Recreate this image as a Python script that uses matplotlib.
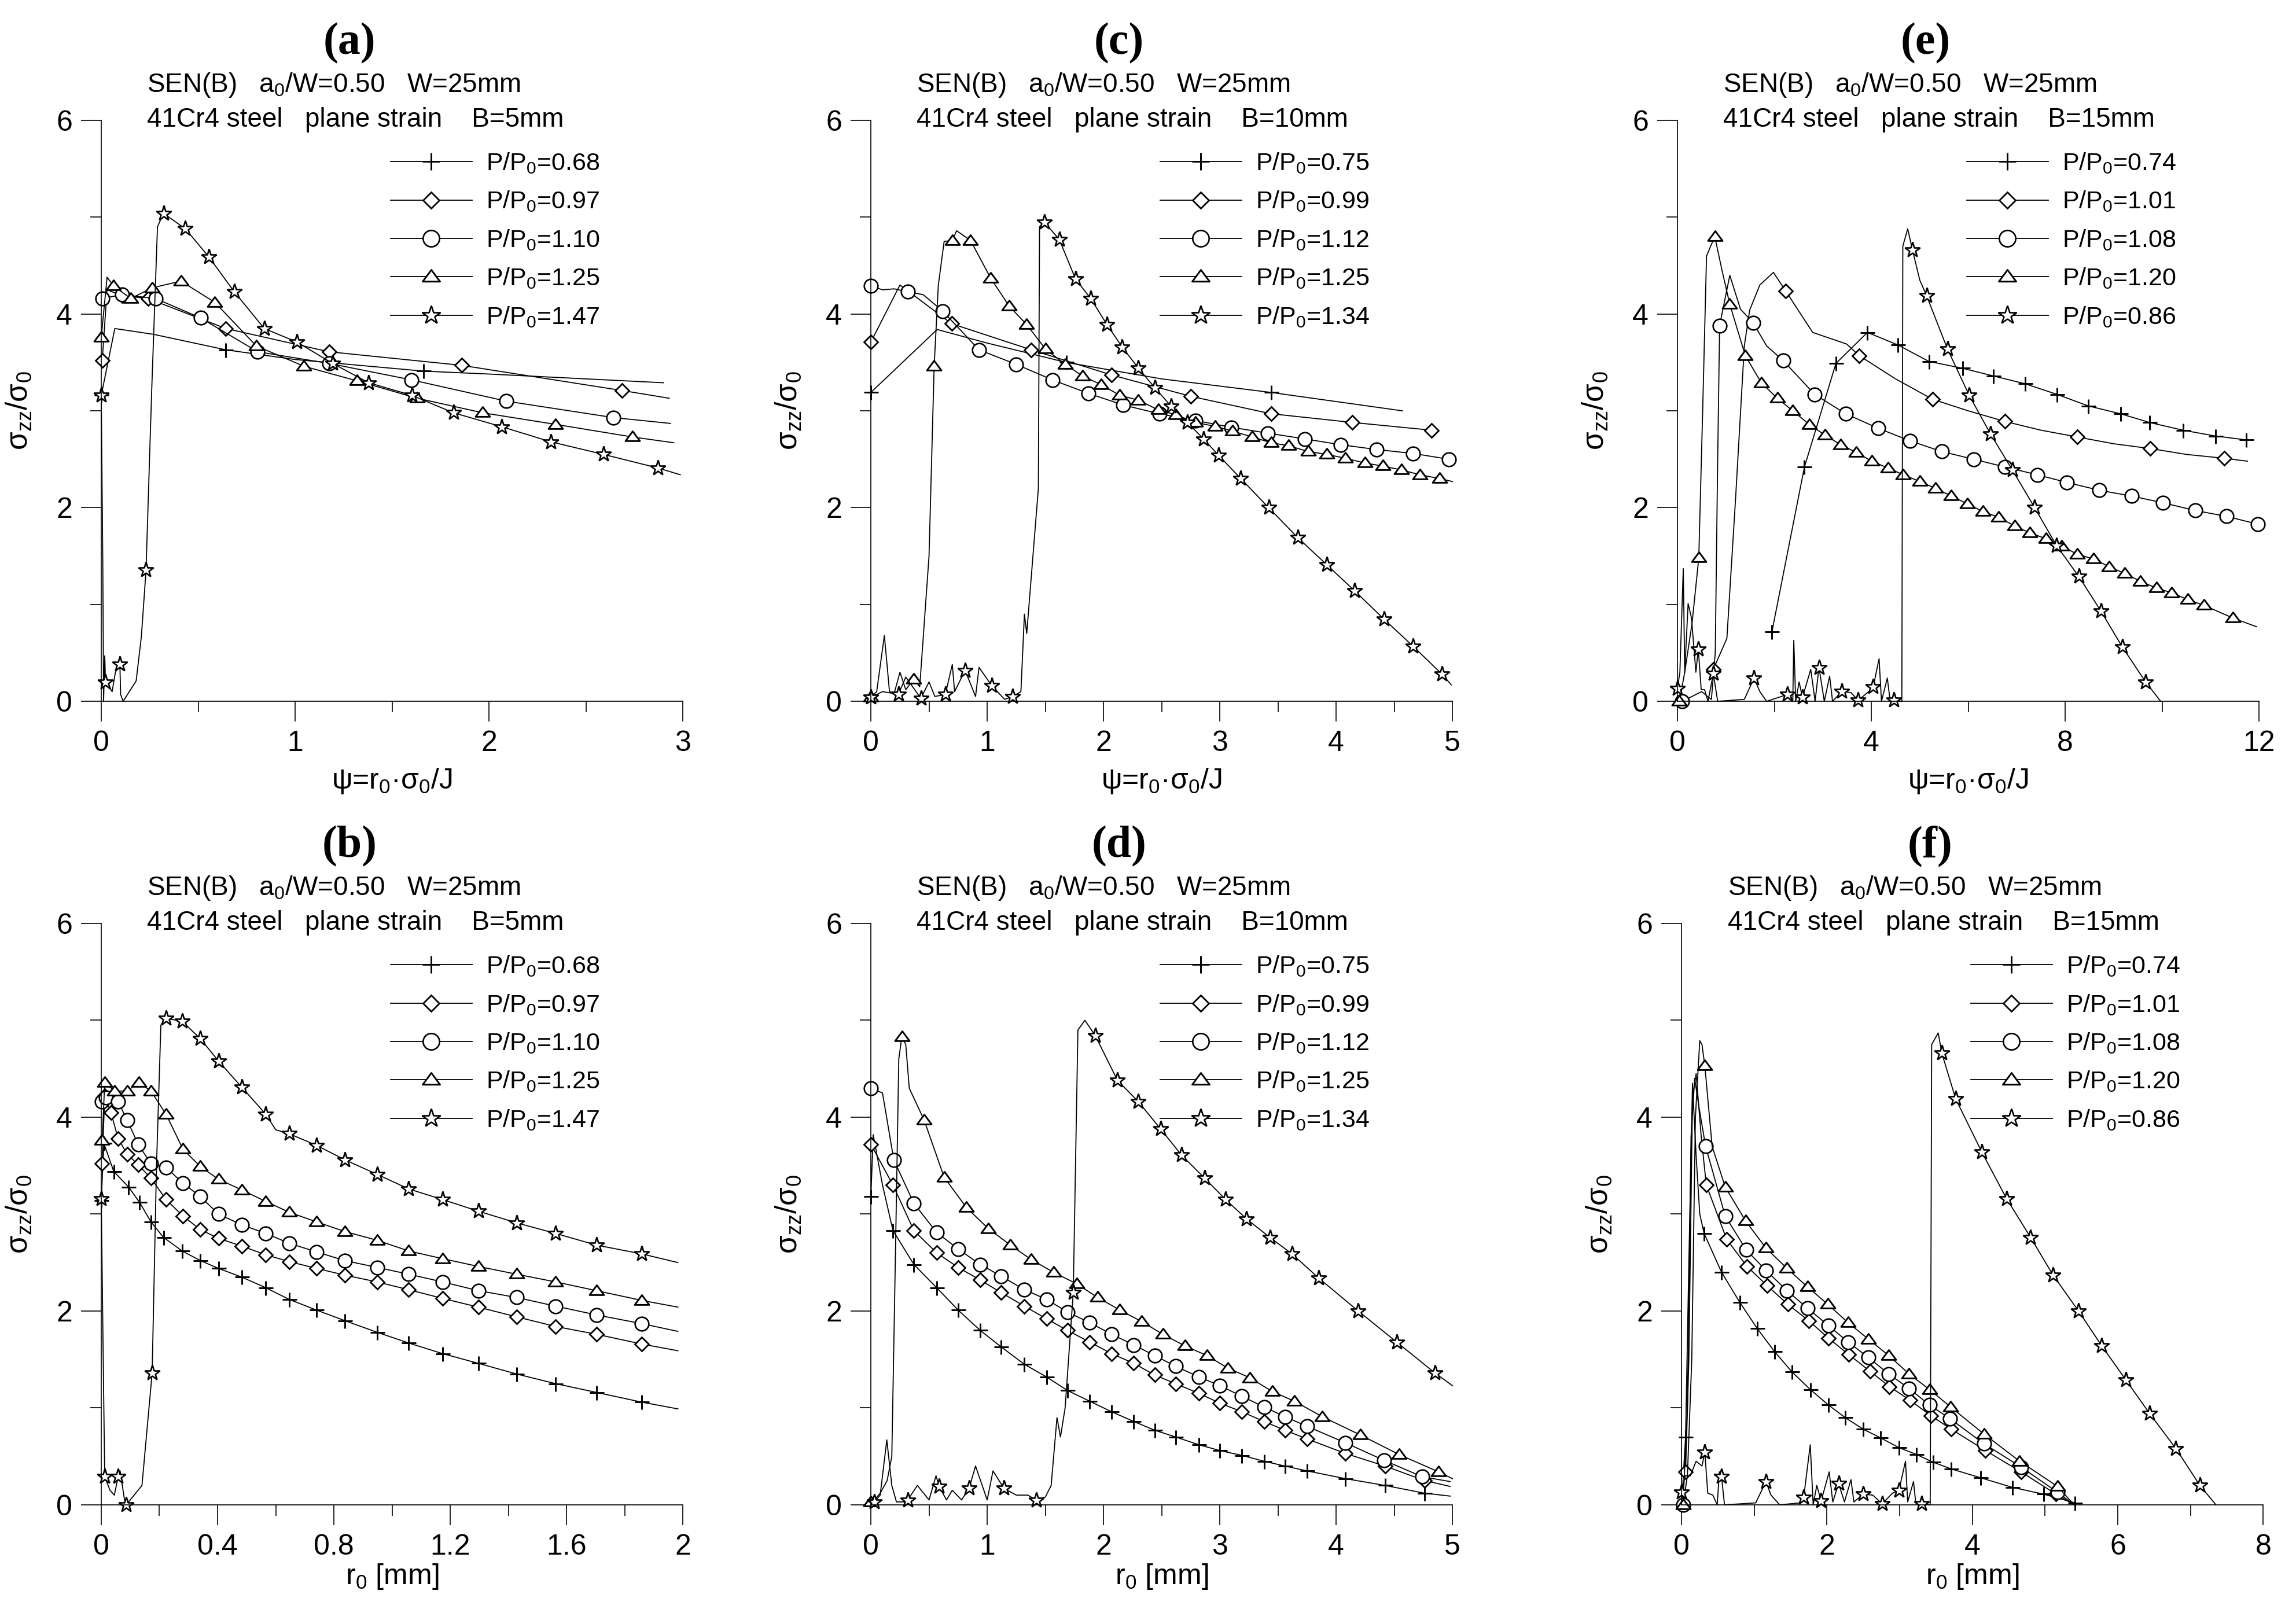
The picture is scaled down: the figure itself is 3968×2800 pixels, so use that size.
import matplotlib
matplotlib.use('Agg')
import matplotlib.pyplot as plt
from matplotlib.path import Path
from matplotlib.ticker import MultipleLocator, FuncFormatter

plt.rcParams['font.family'] = ['Liberation Sans', 'DejaVu Sans']
plt.rcParams['mathtext.fontset'] = 'custom'
plt.rcParams['mathtext.rm'] = 'Liberation Sans'
plt.rcParams['mathtext.it'] = 'Liberation Sans:italic'
plt.rcParams['mathtext.bf'] = 'Liberation Sans:bold'
plt.rcParams['mathtext.default'] = 'regular'

# ---------------- data ----------------
# panel (a): psi, B=5mm
a068_x = [0.0, 0.07, 0.27, 0.643, 1.0, 1.663, 2.0, 2.5, 2.9]
a068_y = [3.16, 3.85, 3.79, 3.63, 3.53, 3.41, 3.38, 3.33, 3.29]
a068_mk = [0, 3, 5]
a097_x = [0.005, 0.03, 0.108, 0.242, 0.643, 1.175, 1.859, 2.686, 2.93]
a097_y = [3.52, 4.25, 4.19, 4.16, 3.85, 3.61, 3.47, 3.21, 3.13]
a097_mk = [0, 2, 3, 4, 5, 6, 7]
a110_x = [0.005, 0.108, 0.28, 0.512, 0.807, 1.175, 1.60, 2.09, 2.643, 2.936]
a110_y = [4.16, 4.20, 4.16, 3.96, 3.61, 3.49, 3.32, 3.10, 2.93, 2.87]
a110_mk = list(range(0, 9))
a125_x = [0.0, 0.03, 0.064, 0.152, 0.262, 0.411, 0.586, 0.8, 1.046, 1.319, 1.63, 1.967, 2.344, 2.74, 2.954]
a125_y = [3.76, 4.38, 4.29, 4.16, 4.27, 4.34, 4.12, 3.67, 3.46, 3.31, 3.13, 2.98, 2.86, 2.73, 2.67]
a125_mk = [0] + list(range(2, 14))
a147_x = [0.0, 0.008, 0.012, 0.018, 0.022, 0.04, 0.056, 0.073, 0.096, 0.10, 0.113, 0.18, 0.207, 0.231, 0.26,
          0.29, 0.321, 0.434, 0.555, 0.686, 0.841, 1.010, 1.193, 1.380, 1.602, 1.817, 2.067, 2.319, 2.591,
          2.871, 2.987]
a147_y = [3.16, 1.4, 0.0, 0.47, 0.20, 0.15, 0.10, 0.30, 0.386, 0.07, 0.0, 0.21, 0.67, 1.356, 3.2, 4.9, 5.04,
          4.88, 4.59, 4.23, 3.85, 3.71, 3.49, 3.29, 3.16, 2.98, 2.835, 2.68, 2.55, 2.41, 2.34]
a147_mk = [0, 4, 8, 13] + list(range(16, 30))

# panel (b): r0, B=5mm
b068_x = [0.0, 0.009, 0.043, 0.094, 0.132, 0.171, 0.214, 0.278, 0.341, 0.403, 0.483, 0.566, 0.646, 0.740,
          0.838, 0.949, 1.057, 1.174, 1.297, 1.428, 1.563, 1.703, 1.858, 1.983]
b068_y = [3.14, 3.73, 3.44, 3.28, 3.12, 2.92, 2.76, 2.62, 2.52, 2.44, 2.35, 2.24, 2.12, 2.01, 1.90, 1.78,
          1.67, 1.56, 1.46, 1.35, 1.25, 1.16, 1.06, 0.99]
b068_mk = list(range(0, 23))
b097_x = [0.003, 0.012, 0.033, 0.058, 0.089, 0.127, 0.171, 0.223, 0.281, 0.341, 0.403, 0.483, 0.566, 0.646,
          0.740, 0.838, 0.949, 1.057, 1.174, 1.297, 1.428, 1.563, 1.703, 1.858, 1.983]
b097_y = [3.52, 4.22, 4.05, 3.78, 3.62, 3.51, 3.37, 3.15, 2.98, 2.84, 2.75, 2.67, 2.58, 2.51, 2.44, 2.37,
          2.30, 2.22, 2.13, 2.04, 1.94, 1.84, 1.76, 1.66, 1.59]
b097_mk = list(range(0, 24))
b110_x = [0.003, 0.015, 0.058, 0.089, 0.127, 0.171, 0.223, 0.281, 0.341, 0.403, 0.483, 0.566, 0.646, 0.740,
          0.838, 0.949, 1.057, 1.174, 1.297, 1.428, 1.563, 1.703, 1.858, 1.983]
b110_y = [4.16, 4.20, 4.16, 3.97, 3.72, 3.52, 3.48, 3.32, 3.18, 3.00, 2.89, 2.80, 2.70, 2.61, 2.52, 2.45,
          2.38, 2.30, 2.21, 2.14, 2.05, 1.96, 1.87, 1.79]
b110_mk = list(range(0, 23))
b125_x = [0.003, 0.012, 0.046, 0.089, 0.129, 0.171, 0.223, 0.281, 0.341, 0.403, 0.483, 0.566, 0.646, 0.740,
          0.838, 0.949, 1.057, 1.174, 1.297, 1.428, 1.563, 1.703, 1.858, 1.983]
b125_y = [3.76, 4.36, 4.27, 4.27, 4.36, 4.27, 4.03, 3.67, 3.49, 3.36, 3.25, 3.13, 3.02, 2.92, 2.82, 2.73,
          2.62, 2.54, 2.46, 2.38, 2.30, 2.21, 2.11, 2.04]
b125_mk = list(range(0, 23))
b147_x = [0.0, 0.008, 0.012, 0.03, 0.045, 0.058, 0.065, 0.08, 0.086, 0.14, 0.175, 0.19, 0.205, 0.223, 0.278,
          0.341, 0.403, 0.483, 0.566, 0.60, 0.646, 0.740, 0.838, 0.949, 1.057, 1.174, 1.297, 1.428, 1.563,
          1.703, 1.858, 1.983]
b147_y = [3.16, 1.2, 0.29, 0.15, 0.1, 0.29, 0.35, 0.05, 0.0, 0.2, 1.36, 3.5, 4.95, 5.02, 4.99, 4.81, 4.58,
          4.31, 4.03, 3.87, 3.83, 3.71, 3.56, 3.41, 3.26, 3.15, 3.03, 2.91, 2.80, 2.68, 2.59, 2.50]
b147_mk = [0, 2, 5, 8, 10, 13, 14, 15, 16, 17, 18] + list(range(20, 31))

# panel (c): psi, B=10mm
c075_x = [0.0, 0.57, 1.0, 1.68, 2.5, 3.44, 4.57]
c075_y = [3.19, 3.84, 3.70, 3.50, 3.33, 3.19, 3.00]
c075_mk = [0, 3, 5]
c099_x = [0.0, 0.25, 0.694, 1.38, 2.07, 2.75, 3.44, 4.14, 4.82]
c099_y = [3.71, 4.30, 3.90, 3.63, 3.37, 3.15, 2.97, 2.88, 2.80]
c099_mk = [0, 2, 3, 4, 5, 6, 7, 8]
c112_x = [0.0, 0.1, 0.2, 0.317, 0.45, 0.617, 0.93, 1.25, 1.56, 1.87, 2.17, 2.48, 2.79, 3.10, 3.41, 3.73,
          4.04, 4.35, 4.66, 4.97]
c112_y = [4.29, 4.25, 4.26, 4.23, 4.2, 4.03, 3.63, 3.48, 3.32, 3.18, 3.06, 2.97, 2.90, 2.83, 2.77, 2.71,
          2.65, 2.60, 2.56, 2.50]
c112_mk = [0, 3] + list(range(5, 20))
c125_x = [0.0, 0.1, 0.2, 0.25, 0.3, 0.37, 0.42, 0.5, 0.544, 0.58, 0.63, 0.70, 0.737, 0.857, 1.03, 1.19,
          1.34, 1.50, 1.67, 1.82, 1.98, 2.14, 2.30, 2.47, 2.62, 2.79, 2.96, 3.11, 3.28, 3.44, 3.59, 3.76,
          3.92, 4.08, 4.25, 4.40, 4.56, 4.72, 4.89, 5.0]
c125_y = [0.04, 0.10, 0.08, 0.30, 0.12, 0.23, 0.15, 1.5, 3.46, 4.3, 4.75, 4.76, 4.86, 4.76, 4.37, 4.08,
          3.89, 3.64, 3.48, 3.36, 3.27, 3.16, 3.11, 3.01, 2.96, 2.88, 2.84, 2.79, 2.73, 2.67, 2.64, 2.58,
          2.55, 2.51, 2.46, 2.43, 2.39, 2.34, 2.30, 2.27]
c125_mk = [0, 5, 8, 11] + list(range(13, 39))
c134_x = [0.0, 0.05, 0.116, 0.16, 0.236, 0.3, 0.43, 0.5, 0.55, 0.64, 0.7, 0.72, 0.81, 0.9, 0.93, 1.04,
          1.15, 1.22, 1.29, 1.32, 1.34, 1.44, 1.45, 1.49, 1.62, 1.76, 1.89, 2.03, 2.16, 2.30, 2.44, 2.58,
          2.72, 2.86, 2.99, 3.18, 3.42, 3.67, 3.92, 4.16, 4.41, 4.66, 4.91, 4.99]
c134_y = [0.04, 0.1, 0.68, 0.1, 0.07, 0.25, 0.03, 0.2, 0.05, 0.07, 0.38, 0.1, 0.32, 0.05, 0.35, 0.16,
          0.02, 0.05, 0.1, 0.9, 0.7, 2.2, 4.9, 4.95, 4.77, 4.36, 4.16, 3.89, 3.66, 3.44, 3.24, 3.05, 2.88,
          2.71, 2.54, 2.30, 2.0, 1.69, 1.41, 1.14, 0.85, 0.57, 0.28, 0.17]
c134_mk = [0, 4, 6, 9, 12, 15, 17] + list(range(23, 43))

# panel (d): r0, B=10mm
d075_x = [0.0, 0.02, 0.1, 0.19, 0.37, 0.566, 0.75, 0.94, 1.12, 1.32, 1.51, 1.69, 1.88, 2.07, 2.26, 2.44,
          2.62, 2.82, 3.0, 3.19, 3.38, 3.56, 3.75, 4.08, 4.42, 4.76, 4.98]
d075_y = [3.18, 3.82, 3.3, 2.83, 2.48, 2.24, 2.01, 1.80, 1.63, 1.45, 1.32, 1.18, 1.07, 0.96, 0.86, 0.77,
          0.70, 0.62, 0.56, 0.51, 0.45, 0.40, 0.35, 0.27, 0.20, 0.12, 0.09]
d075_mk = [0] + list(range(3, 26))
d099_x = [0.0, 0.19, 0.37, 0.566, 0.75, 0.94, 1.12, 1.32, 1.51, 1.69, 1.88, 2.07, 2.26, 2.44, 2.62, 2.82,
          3.0, 3.19, 3.38, 3.56, 3.75, 4.08, 4.42, 4.76, 4.98]
d099_y = [3.72, 3.30, 2.83, 2.60, 2.45, 2.32, 2.19, 2.05, 1.92, 1.80, 1.68, 1.56, 1.46, 1.34, 1.25, 1.15,
          1.05, 0.96, 0.86, 0.77, 0.68, 0.53, 0.40, 0.25, 0.19]
d099_mk = list(range(0, 24))
d112_x = [0.0, 0.1, 0.197, 0.37, 0.566, 0.75, 0.94, 1.12, 1.32, 1.51, 1.69, 1.88, 2.07, 2.26, 2.44, 2.62,
          2.82, 3.0, 3.19, 3.38, 3.56, 3.75, 4.08, 4.41, 4.74, 4.98]
d112_y = [4.30, 4.25, 3.56, 3.11, 2.81, 2.64, 2.48, 2.36, 2.22, 2.12, 1.99, 1.88, 1.76, 1.65, 1.54, 1.43,
          1.32, 1.23, 1.12, 1.01, 0.91, 0.81, 0.64, 0.46, 0.29, 0.24]
d112_mk = [0] + list(range(2, 25))
d125_x = [0.0, 0.03, 0.08, 0.14, 0.18, 0.21, 0.24, 0.266, 0.30, 0.33, 0.458, 0.63, 0.82, 1.01, 1.20, 1.38,
          1.57, 1.77, 1.95, 2.14, 2.33, 2.51, 2.70, 2.89, 3.07, 3.26, 3.45, 3.64, 3.88, 4.21, 4.54, 4.88, 5.0]
d125_y = [0.03, 0.05, 0.12, 0.25, 0.5, 2.5, 4.6, 4.83, 4.75, 4.3, 3.97, 3.38, 3.07, 2.85, 2.68, 2.53,
          2.40, 2.28, 2.14, 2.01, 1.89, 1.76, 1.64, 1.54, 1.41, 1.31, 1.17, 1.07, 0.91, 0.72, 0.52, 0.34, 0.27]
d125_mk = [0, 7] + list(range(10, 32))
d134_x = [0.0, 0.03, 0.08, 0.137, 0.18, 0.22, 0.3, 0.317, 0.4, 0.5, 0.56, 0.587, 0.65, 0.7, 0.78, 0.844,
          0.9, 1.0, 1.05, 1.144, 1.25, 1.35, 1.42, 1.5, 1.55, 1.6, 1.63, 1.67, 1.74, 1.78, 1.84, 1.93, 2.12,
          2.30, 2.49, 2.67, 2.87, 3.05, 3.23, 3.43, 3.62, 3.85, 4.19, 4.52, 4.85, 5.0]
d134_y = [0.03, 0.03, 0.1, 0.67, 0.2, 0.03, 0.03, 0.05, 0.2, 0.05, 0.3, 0.19, 0.05, 0.15, 0.05, 0.17, 0.4,
          0.05, 0.35, 0.17, 0.1, 0.1, 0.05, 0.08, 0.2, 0.9, 0.7, 1.0, 2.19, 4.9, 5.0, 4.84, 4.38, 4.16, 3.88,
          3.61, 3.37, 3.15, 2.95, 2.76, 2.59, 2.34, 2.0, 1.68, 1.36, 1.23]
d134_mk = [1, 7, 11, 15, 19, 22, 28] + list(range(31, 45))

# panel (e): psi, B=15mm
e074_x = [1.95, 2.62, 3.27, 3.92, 4.55, 5.19, 5.88, 6.52, 7.17, 7.83, 8.48, 9.14, 9.74, 10.43, 11.10, 11.73]
e074_y = [0.72, 2.42, 3.49, 3.81, 3.68, 3.51, 3.44, 3.36, 3.28, 3.17, 3.05, 2.97, 2.88, 2.80, 2.74, 2.70]
e074_mk = list(range(0, 16))
e101_x = [0.74, 1.02, 1.2, 1.38, 1.49, 1.7, 1.98, 2.23, 2.79, 3.49, 3.75, 4.5, 5.26, 6.0, 6.76, 7.5, 8.25,
          9.0, 9.76, 10.5, 11.28, 11.76]
e101_y = [0.33, 0.65, 2.1, 3.67, 4.04, 4.3, 4.43, 4.24, 3.81, 3.69, 3.57, 3.33, 3.12, 3.0, 2.89, 2.80, 2.73,
          2.66, 2.61, 2.55, 2.51, 2.48]
e101_mk = [0, 7, 10, 12, 14, 16, 18, 20]
e108_x = [0.10, 0.3, 0.5, 0.62, 0.7, 0.78, 0.83, 0.87, 1.08, 1.3, 1.56, 1.84, 2.18, 2.83, 3.47, 4.14, 4.80,
          5.45, 6.11, 6.76, 7.42, 8.04, 8.70, 9.37, 10.02, 10.69, 11.33, 11.97]
e108_y = [0.0, 0.05, 0.1, 0.05, 0.02, 0.5, 2.5, 3.88, 4.40, 4.05, 3.91, 3.67, 3.52, 3.17, 2.97, 2.82, 2.69,
          2.58, 2.50, 2.42, 2.34, 2.26, 2.18, 2.12, 2.05, 1.97, 1.91, 1.83]
e108_mk = [0, 7, 10] + list(range(12, 28))
e120_x = [0.04, 0.15, 0.3, 0.44, 0.52, 0.6, 0.77, 0.92, 1.08, 1.40, 1.73, 2.06, 2.38, 2.72, 3.04, 3.37,
          3.69, 4.01, 4.34, 4.66, 5.0, 5.32, 5.65, 5.98, 6.30, 6.63, 6.96, 7.27, 7.60, 7.93, 8.25, 8.58, 8.91,
          9.23, 9.55, 9.88, 10.2, 10.53, 10.87, 11.46, 11.95]
e120_y = [0.0, 0.3, 0.8, 1.48, 3.0, 4.6, 4.80, 4.45, 4.10, 3.57, 3.29, 3.13, 3.0, 2.86, 2.75, 2.65, 2.57,
          2.48, 2.41, 2.34, 2.27, 2.20, 2.12, 2.04, 1.96, 1.90, 1.81, 1.74, 1.68, 1.60, 1.52, 1.47, 1.39,
          1.32, 1.24, 1.17, 1.12, 1.05, 0.99, 0.86, 0.77]
e120_mk = [0, 3, 6] + list(range(8, 40))
e086_x = [0.0, 0.05, 0.12, 0.15, 0.22, 0.29, 0.38, 0.43, 0.49, 0.56, 0.63, 0.74, 0.83, 1.38, 1.58, 1.70,
          1.84, 2.27, 2.38, 2.40, 2.44, 2.51, 2.58, 2.75, 2.84, 2.92, 3.03, 3.14, 3.20, 3.39, 3.58, 3.73,
          3.97, 4.04, 4.16, 4.21, 4.33, 4.39, 4.46, 4.63, 4.65, 4.75, 4.85, 5.0, 5.14, 5.57, 6.02, 6.46,
          6.91, 7.37, 7.82, 8.28, 8.74, 9.18, 9.66, 9.97]
e086_y = [0.135, 0.3, 1.37, 0.3, 1.01, 0.86, 0.3, 0.54, 0.12, 0.12, 0.0, 0.285, 0.0, 0.02, 0.24, 0.1, 0.0,
          0.07, 0.0, 0.63, 0.0, 0.2, 0.04, 0.33, 0.0, 0.35, 0.0, 0.26, 0.0, 0.10, 0.09, 0.01, 0.11, 0.15,
          0.44, 0.0, 0.24, 0.0, 0.01, 0.0, 4.7, 4.88, 4.66, 4.35, 4.19, 3.64, 3.16, 2.76, 2.39, 2.0, 1.61,
          1.29, 0.93, 0.56, 0.20, 0.0]
e086_mk = [0, 7, 11, 14, 17, 22, 25, 29, 31, 33, 38, 42, 44] + list(range(45, 55))

# panel (f): r0, B=15mm
f074_x = [0.0, 0.055, 0.1, 0.15, 0.2, 0.25, 0.31, 0.55, 0.80, 1.04, 1.28, 1.52, 1.77, 2.02, 2.25, 2.50,
          2.74, 2.99, 3.23, 3.46, 3.71, 4.11, 4.55, 4.98, 5.41]
f074_y = [0.0, 0.70, 2.5, 4.35, 3.6, 3.0, 2.80, 2.40, 2.09, 1.82, 1.58, 1.37, 1.19, 1.03, 0.90, 0.78, 0.69,
          0.59, 0.52, 0.44, 0.37, 0.28, 0.18, 0.11, 0.02]
f074_mk = [1] + list(range(6, 25))
f101_x = [0.055, 0.1, 0.15, 0.2, 0.27, 0.34, 0.62, 0.90, 1.18, 1.46, 1.75, 2.02, 2.30, 2.59, 2.86, 3.14,
          3.43, 3.71, 4.18, 4.67, 5.15, 5.4]
f101_y = [0.34, 1.5, 4.2, 4.45, 3.8, 3.30, 2.74, 2.46, 2.26, 2.07, 1.90, 1.72, 1.55, 1.38, 1.22, 1.08, 0.92,
          0.78, 0.56, 0.34, 0.11, 0.0]
f101_mk = [0] + list(range(5, 21))
f108_x = [0.02, 0.08, 0.13, 0.18, 0.24, 0.33, 0.60, 0.89, 1.16, 1.45, 1.73, 2.02, 2.29, 2.57, 2.85, 3.13,
          3.41, 3.69, 4.16, 4.67, 5.17, 5.4]
f108_y = [0.0, 1.0, 3.8, 4.4, 4.1, 3.70, 2.98, 2.63, 2.42, 2.21, 2.03, 1.85, 1.68, 1.52, 1.35, 1.20, 1.03,
          0.89, 0.63, 0.39, 0.13, 0.0]
f108_mk = [0] + list(range(5, 21))
f120_x = [0.02, 0.08, 0.14, 0.19, 0.25, 0.28, 0.32, 0.42, 0.60, 0.88, 1.16, 1.45, 1.73, 2.01, 2.29, 2.57,
          2.85, 3.13, 3.41, 3.70, 4.16, 4.65, 5.17, 5.4]
f120_y = [0.0, 0.3, 1.5, 4.0, 4.79, 4.75, 4.53, 3.7, 3.28, 2.93, 2.65, 2.44, 2.25, 2.07, 1.88, 1.71, 1.54,
          1.35, 1.19, 1.01, 0.73, 0.45, 0.19, 0.0]
f120_mk = [0, 6] + list(range(8, 23))
f086_x = [0.0, 0.05, 0.12, 0.2, 0.28, 0.32, 0.36, 0.43, 0.49, 0.52, 0.55, 0.59, 1.02, 1.16, 1.23, 1.35,
          1.63, 1.68, 1.77, 1.81, 1.86, 1.92, 2.03, 2.08, 2.16, 2.24, 2.33, 2.37, 2.50, 2.63, 2.76, 2.9, 2.99,
          3.08, 3.11, 3.19, 3.22, 3.30, 3.42, 3.44, 3.53, 3.58, 3.77, 4.13, 4.47, 4.80, 5.11, 5.46, 5.78,
          6.11, 6.44, 6.80, 7.13, 7.35]
f086_y = [0.13, 0.3, 0.3, 0.45, 0.40, 0.54, 0.12, 0.1, 0.0, 0.34, 0.29, 0.0, 0.02, 0.24, 0.1, 0.0, 0.02,
          0.08, 0.62, 0.0, 0.2, 0.04, 0.34, 0.03, 0.22, 0.03, 0.26, 0.03, 0.11, 0.1, 0.01, 0.12, 0.15, 0.45,
          0.03, 0.24, 0.03, 0.01, 0.0, 4.75, 4.87, 4.66, 4.19, 3.64, 3.16, 2.76, 2.37, 2.0, 1.64, 1.29, 0.94,
          0.58, 0.20, 0.0]
f086_mk = [0, 5, 10, 13, 17, 21, 24, 28, 30, 32, 37, 41] + list(range(42, 53))

labels_ab = ['0.68', '0.97', '1.10', '1.25', '1.47']
labels_cd = ['0.75', '0.99', '1.12', '1.25', '1.34']
labels_ef = ['0.74', '1.01', '1.08', '1.20', '0.86']
thickness = ['B=5mm', 'B=10mm', 'B=15mm']
x_limits = [3, 2, 5, 5, 12, 8]
x_major = [1, 0.4, 1, 1, 4, 2]
x_minor = [0.5, 0.2, 0.5, 0.5, 2, 1]
panel_tags = ['(a)', '(b)', '(c)', '(d)', '(e)', '(f)']

# ---------------- styling ----------------
tri_path = Path([(0, 0.8), (-1, -0.55), (1, -0.55), (0, 0.8)],
                [Path.MOVETO, Path.LINETO, Path.LINETO, Path.CLOSEPOLY])
mstyles = [
    dict(marker='+', ms=18, mew=2.1, mfc='black'),
    dict(marker='D', ms=12, mew=2.0, mfc='white'),
    dict(marker='o', ms=17, mew=1.9, mfc='white'),
    dict(marker=tri_path, ms=18, mew=2.1, mfc='white'),
    dict(marker='*', ms=20, mew=1.9, mfc='white'),
]

series = {
    'a': [(a068_x, a068_y, a068_mk), (a097_x, a097_y, a097_mk), (a110_x, a110_y, a110_mk),
          (a125_x, a125_y, a125_mk), (a147_x, a147_y, a147_mk)],
    'b': [(b068_x, b068_y, b068_mk), (b097_x, b097_y, b097_mk), (b110_x, b110_y, b110_mk),
          (b125_x, b125_y, b125_mk), (b147_x, b147_y, b147_mk)],
    'c': [(c075_x, c075_y, c075_mk), (c099_x, c099_y, c099_mk), (c112_x, c112_y, c112_mk),
          (c125_x, c125_y, c125_mk), (c134_x, c134_y, c134_mk)],
    'd': [(d075_x, d075_y, d075_mk), (d099_x, d099_y, d099_mk), (d112_x, d112_y, d112_mk),
          (d125_x, d125_y, d125_mk), (d134_x, d134_y, d134_mk)],
    'e': [(e074_x, e074_y, e074_mk), (e101_x, e101_y, e101_mk), (e108_x, e108_y, e108_mk),
          (e120_x, e120_y, e120_mk), (e086_x, e086_y, e086_mk)],
    'f': [(f074_x, f074_y, f074_mk), (f101_x, f101_y, f101_mk), (f108_x, f108_y, f108_mk),
          (f120_x, f120_y, f120_mk), (f086_x, f086_y, f086_mk)],
}

fig = plt.figure(figsize=(39.68, 28), dpi=100)
W = 0.2533
rects = {
    'a': [0.0441, 0.5671, W, 0.3586], 'b': [0.0441, 0.0711, W, 0.3589],
    'c': [0.3793, 0.5671, W, 0.3586], 'd': [0.3793, 0.0711, W, 0.3589],
    'e': [0.7306, 0.5671, W, 0.3586], 'f': [0.7324, 0.0711, W, 0.3589],
}
order = ['a', 'b', 'c', 'd', 'e', 'f']
for k, key in enumerate(order):
    ax = fig.add_axes(rects[key])
    col = k // 2
    top = (k % 2 == 0)
    labs = [labels_ab, labels_cd, labels_ef][col]
    handles = []
    for (xs, ys, mk), st, lab in zip(series[key], mstyles, labs):
        mk = [i for i in mk if i < min(len(xs), len(ys))]
        h, = ax.plot(xs, ys, color='black', lw=1.3, markevery=mk, mec='black',
                     clip_on=False, label='P/P$_0$=' + lab, **st)
        handles.append(h)
    ax.set_xlim(0, x_limits[k])
    ax.set_ylim(0, 6)
    ax.xaxis.set_major_locator(MultipleLocator(x_major[k]))
    ax.xaxis.set_minor_locator(MultipleLocator(x_minor[k]))
    ax.yaxis.set_major_locator(MultipleLocator(2))
    ax.yaxis.set_minor_locator(MultipleLocator(1))
    ax.xaxis.set_major_formatter(FuncFormatter(lambda v, p: '%g' % round(v, 3)))
    ax.tick_params(which='major', direction='out', length=25, width=1.2, labelsize=36, pad=11)
    ax.tick_params(which='minor', direction='out', length=13.5, width=1.2)
    for s in ['top', 'right']:
        ax.spines[s].set_visible(False)
    for s in ['left', 'bottom']:
        ax.spines[s].set_linewidth(1.2)
    ax.set_ylabel('σ$_{zz}$/σ$_0$', fontsize=37)
    ax.yaxis.set_label_coords(-0.117, 0.5)
    if top:
        ax.set_xlabel('ψ=r$_0$·σ$_0$/J', fontsize=36)
        ax.xaxis.set_label_coords(0.5, -0.112)
    else:
        ax.set_xlabel('r$_0$ [mm]', fontsize=36)
        ax.xaxis.set_label_coords(0.5, -0.099)
    ax.text(0.427, 1.133, panel_tags[k], transform=ax.transAxes, ha='center', va='center',
            fontsize=56, fontweight='bold', family=['Liberation Serif', 'DejaVu Serif'])
    ax.text(0.079, 1.049, 'SEN(B)   a$_0$/W=0.50   W=25mm', transform=ax.transAxes,
            fontsize=33, va='baseline', ha='left')
    ax.text(0.079, 0.989, '41Cr4 steel   plane strain    ' + thickness[col], transform=ax.transAxes,
            fontsize=33, va='baseline', ha='left')
    ax.legend(handles=handles, loc='upper left', bbox_to_anchor=(0.497, 0.947), frameon=False,
              fontsize=31, handlelength=3.28, handletextpad=0.56, labelspacing=0.57,
              borderpad=0, borderaxespad=0, markerscale=1.2, numpoints=1)

fig.savefig('out.png', dpi=100, facecolor='white')
